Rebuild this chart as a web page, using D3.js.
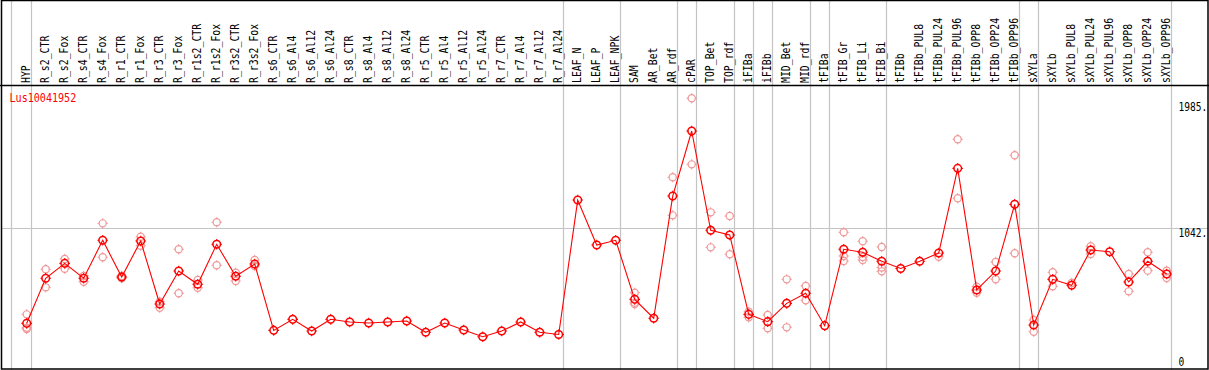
<!DOCTYPE html>
<html>
<head>
<meta charset="utf-8">
<script src="https://cdn.jsdelivr.net/npm/d3@7"></script>
<style>
  body { margin: 0; background: white; }
  svg { display: block; }
</style>
</head>
<body>
<div id="container"></div>
<script>
let w = 1209;
let h = 370;

// sample names (columns)
let samples = ["HYP", "R_s2_CTR", "R_s2_Fox", "R_s4_CTR", "R_s4_Fox", "R_r1_CTR", "R_r1_Fox",
  "R_r3_CTR", "R_r3_Fox", "R_r1s2_CTR", "R_r1s2_Fox", "R_r3s2_CTR", "R_r3s2_Fox",
  "R_s6_CTR", "R_s6_Al4", "R_s6_Al12", "R_s6_Al24", "R_s8_CTR", "R_s8_Al4", "R_s8_Al12", "R_s8_Al24",
  "R_r5_CTR", "R_r5_Al4", "R_r5_Al12", "R_r5_Al24", "R_r7_CTR", "R_r7_Al4", "R_r7_Al12", "R_r7_Al24",
  "LEAF_N", "LEAF_P", "LEAF_NPK", "SAM", "AR_Bet", "AR_rdf", "cPAR", "TOP_Bet", "TOP_rdf",
  "iFIBa", "iFIBb", "MID_Bet", "MID_rdf", "tFIBa", "tFIB_Gr", "tFIB_Li", "tFIB_Bi", "tFIBb",
  "tFIBb_PUL8", "tFIBb_PUL24", "tFIBb_PUL96", "tFIBb_OPP8", "tFIBb_OPP24", "tFIBb_OPP96",
  "sXYLa", "sXYLb", "sXYLb_PUL8", "sXYLb_PUL24", "sXYLb_PUL96", "sXYLb_OPP8", "sXYLb_OPP24", "sXYLb_OPP96"];

// mean expression per sample
let means = [353, 680, 788, 680, 955, 689, 950, 493, 732, 636, 926, 694, 783,
  302, 382, 297, 382, 363, 355, 363, 370, 288, 355, 305, 256, 297, 363, 288, 272,
  1247, 921, 955, 527, 390, 1276, 1748, 1028, 994,
  418, 365, 498, 571, 336, 890, 868, 803, 751,
  803, 863, 1477, 595, 732, 1216,
  341, 672, 629, 885, 872, 653, 803, 711];

// replicate values per sample (only those visible)
let replicates = [
  [418, 321, 312], [745, 614], [820, 749], [696, 655], [1078, 832], [696, 680], [981, 916],
  [510, 466], [890, 571], [667, 611], [1086, 774], [720, 660], [812, 769],
  [], [], [], [], [], [], [], [], [], [], [], [], [], [], [], [],
  [], [], [], [575, 503, 493], [], [1412, 1136], [1985, 1506], [1158, 904], [1131, 854],
  [437, 397], [413, 317], [672, 324], [624, 520], [], [1013, 841, 805], [948, 834, 812], [907, 758, 730], [],
  [], [836], [1688, 1260], [619, 575], [798, 672], [1572, 861],
  [377, 292], [723, 622], [646], [912, 856], [], [711, 585], [868, 735], [735, 682]];

// groups end after these samples (grey separators)
let groupEnds = ["HYP", "R_r7_Al24", "LEAF_NPK", "AR_rdf", "cPAR", "TOP_rdf", "iFIBa", "iFIBb",
  "MID_rdf", "tFIBa", "tFIB_Bi", "tFIBb_OPP96", "sXYLa", "sXYLb_OPP96"];

let yTicks = [1985, 1042, 0];
let geneName = "Lus10041952";

let font = "'DejaVu Sans Mono', monospace";

let viz = d3.select("#container")
  .append("svg")
  .attr("width", w)
  .attr("height", h)
  .style("background-color", "white");

let xScale = d3.scaleBand().domain(samples).range([17.2, 17.2 + 19 * samples.length]);
let yScale = d3.scaleLinear().domain([0, 1985]).range([372, 98.3]);

function cx(name) {
  return xScale(name) + xScale.bandwidth() / 2;
}

// horizontal grid at middle tick
viz.append("line")
  .attr("x1", 1).attr("x2", w - 1)
  .attr("y1", Math.round(yScale(1042)) + 0.5)
  .attr("y2", Math.round(yScale(1042)) + 0.5)
  .attr("stroke", "#c4c4c4")
  .attr("stroke-width", 1.2);

// vertical group separators
let sepX = [cx(samples[0]) - 16].concat(groupEnds.map(function(d) { return cx(d) + 4; }));
viz.selectAll(".sep").data(sepX).enter()
  .append("line")
  .attr("class", "sep")
  .attr("x1", function(d) { return Math.round(d) + 0.5; })
  .attr("x2", function(d) { return Math.round(d) + 0.5; })
  .attr("y1", 0)
  .attr("y2", h)
  .attr("stroke", "#c4c4c4")
  .attr("stroke-width", 1.2);

// frame
viz.append("rect")
  .attr("x", 1.5).attr("y", 0.5)
  .attr("width", w - 2.5).attr("height", h - 1.5)
  .attr("fill", "none")
  .attr("stroke", "black")
  .attr("stroke-width", 1.5);

viz.append("line")
  .attr("x1", 0).attr("x2", w)
  .attr("y1", 85.5).attr("y2", 85.5)
  .attr("stroke", "black")
  .attr("stroke-width", 1.5);

// column labels
viz.selectAll(".name").data(samples).enter()
  .append("text")
  .attr("class", "name")
  .text(function(d) { return d; })
  .attr("transform", function(d) {
    return "translate(" + (cx(d) + 3.3) + ",83) rotate(-90) scale(0.82,1)";
  })
  .attr("font-family", font)
  .attr("font-size", "12px")
  .attr("fill", "black");

function marker(x, y, r) {
  return "M" + (x - r - 1.5) + "," + y + "h2" +
    "M" + (x + r - 0.5) + "," + y + "h2" +
    "M" + x + "," + (y - r - 1.5) + "v2" +
    "M" + x + "," + (y + r - 0.5) + "v2";
}

// replicate points
let repData = [];
replicates.forEach(function(reps, i) {
  reps.forEach(function(v) {
    repData.push({ name: samples[i], value: v });
  });
});

let reps = viz.selectAll(".rep").data(repData).enter()
  .append("g")
  .attr("class", "rep");

reps.append("circle")
  .attr("cx", function(d) { return cx(d.name); })
  .attr("cy", function(d) { return yScale(d.value); })
  .attr("r", 3.6)
  .attr("fill", "none")
  .attr("stroke", "#f09898")
  .attr("stroke-width", 1.2);

reps.append("path")
  .attr("d", function(d) { return marker(cx(d.name), yScale(d.value), 3.6); })
  .attr("stroke", "#f09898")
  .attr("stroke-width", 1);

// mean line
let line = d3.line()
  .x(function(d, i) { return cx(samples[i]); })
  .y(function(d) { return yScale(d); });

viz.append("path")
  .datum(means)
  .attr("d", line)
  .attr("fill", "none")
  .attr("stroke", "#ff0000")
  .attr("stroke-width", 1.1);

let pts = viz.selectAll(".mean").data(means).enter()
  .append("g")
  .attr("class", "mean");

pts.append("circle")
  .attr("cx", function(d, i) { return cx(samples[i]); })
  .attr("cy", function(d) { return yScale(d); })
  .attr("r", 3.8)
  .attr("fill", "none")
  .attr("stroke", "#ff0000")
  .attr("stroke-width", 1.5);

pts.append("path")
  .attr("d", function(d, i) { return marker(cx(samples[i]), yScale(d), 3.8); })
  .attr("stroke", "#ff0000")
  .attr("stroke-width", 1.1);

// gene name
viz.append("text")
  .text(geneName)
  .attr("transform", "translate(9.5,101.5) scale(0.84,1)")
  .attr("font-family", font)
  .attr("font-size", "12px")
  .attr("fill", "#ff0000");

// y labels
viz.selectAll(".ylab").data(yTicks).enter()
  .append("text")
  .attr("class", "ylab")
  .text(function(d) { return d === 0 ? "0" : d + "."; })
  .attr("transform", function(d) {
    let y = Math.min(Math.max(yScale(d) + 8.5, 110.5), 365.5);
    return "translate(1178.5," + y + ") scale(0.8,1)";
  })
  .attr("font-family", font)
  .attr("font-size", "12px")
  .attr("fill", "black");
</script>
</body>
</html>
